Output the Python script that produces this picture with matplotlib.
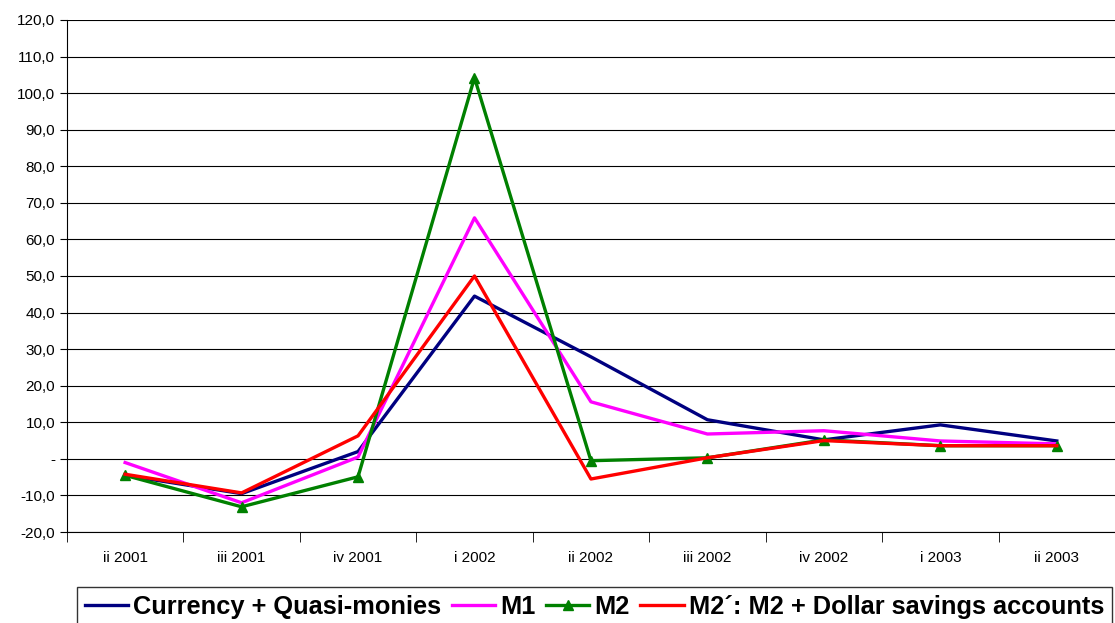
import matplotlib
matplotlib.use("Agg")
import matplotlib.pyplot as plt
from matplotlib.ticker import FuncFormatter

quarters = ["ii 2001", "iii 2001", "iv 2001", "i 2002", "ii 2002",
            "iii 2002", "iv 2002", "i 2003", "ii 2003"]

currency = [-4.5, -9.5, 2.0, 44.5, 27.9, 10.7, 5.2, 9.3, 4.9]
m1 = [-1.0, -12.0, 0.5, 65.9, 15.6, 6.8, 7.7, 4.9, 4.1]
m2 = [-4.5, -13.1, -4.9, 104.2, -0.5, 0.3, 5.2, 3.6, 3.6]
m2_dollar = [-4.2, -9.3, 6.3, 50.0, -5.5, 0.3, 5.0, 3.6, 3.6]

plt.rcParams['font.family'] = ['Liberation Sans', 'DejaVu Sans']

fig = plt.figure(figsize=(11.15, 6.23), dpi=100)
ax = fig.add_axes([0.060, 0.146, 0.94, 0.822])

x = range(len(quarters))
ax.plot(x, currency, color='#000080', lw=2.4, label='Currency + Quasi-monies')
ax.plot(x, m1, color='#ff00ff', lw=2.4, label='M1')
ax.plot(x, m2, color='#008000', lw=2.4, marker='^', markersize=7, label='M2')
ax.plot(x, m2_dollar, color='#ff0000', lw=2.4, label='M2\u00b4: M2 + Dollar savings accounts')

ax.set_xlim(-0.5, len(quarters) - 0.5)
ax.set_ylim(-20, 120)
ax.set_yticks(range(-20, 121, 10))
ax.yaxis.set_major_formatter(FuncFormatter(
    lambda v, p: '-' if abs(v) < 1e-9 else f"{v:.1f}".replace('.', ',')))
ax.grid(axis='y', color='black', lw=0.8)
ax.set_axisbelow(True)

ax.set_xticks(list(x))
ax.set_xticklabels(quarters, fontsize=11)
ax.set_xticks([i + 0.5 for i in range(-1, len(quarters))], minor=True)
ax.tick_params(axis='x', which='major', length=0, pad=14)
ax.tick_params(axis='x', which='minor', length=7, direction='out', color='black')
ax.tick_params(axis='y', labelsize=11, length=5, color='black')

for s in ['top', 'right']:
    ax.spines[s].set_visible(False)
ax.spines['left'].set_color('black')
ax.spines['bottom'].set_color('black')

leg = fig.legend(loc='upper left', bbox_to_anchor=(77 / 1115, 1 - 587 / 623), ncol=4,
                 frameon=True, fancybox=False, edgecolor='black',
                 prop={'weight': 'bold', 'size': 18.3}, handlelength=1.7,
                 handletextpad=0.2, columnspacing=0.42, borderpad=0.3,
                 borderaxespad=0)
leg.get_frame().set_linewidth(1.0)

fig.savefig('out.png', dpi=100)
